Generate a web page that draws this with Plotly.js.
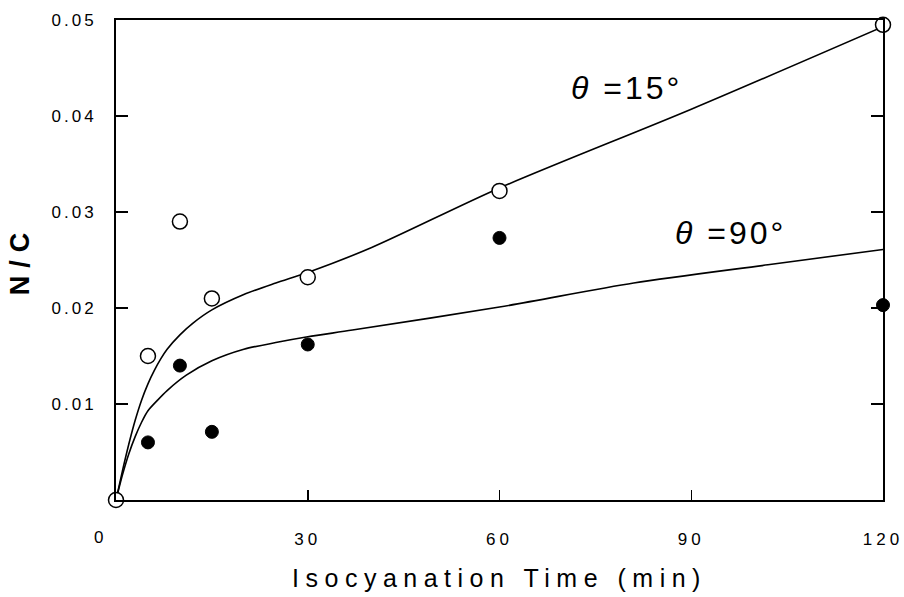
<!DOCTYPE html>
<html>
<head>
<meta charset="utf-8">
<script src="https://cdn.plot.ly/plotly-3.0.1.min.js"></script>
<style>
  html, body { margin: 0; padding: 0; background: #fff; }
  #chart { width: 904px; height: 597px; }
  .xtick text { letter-spacing: 4px; }
  .ytick text { letter-spacing: 3px; }
  .xtitle { letter-spacing: 6.5px; }
  .ytitle { letter-spacing: 8px; }
  .annotation-text { letter-spacing: 3px; }
</style>
</head>
<body>
<div id="chart"></div>
<script>
// Measured points (isocyanation time in min, N/C ratio)
const timeOpen = [0, 5, 10, 15, 30, 60, 120];
const ncOpen15 = [0, 0.0150, 0.0290, 0.0210, 0.0232, 0.0322, 0.0495];

const timeFilled = [5, 10, 15, 30, 60, 120];
const ncFilled90 = [0.0060, 0.0140, 0.0071, 0.0162, 0.0273, 0.0203];

// Fitted curves
const fitTime15 = [0, 1, 2, 3, 4, 5, 6, 7, 8, 10, 12, 15, 20, 25, 30, 40, 60, 90, 120];
const fitNC15   = [0, 0.0030, 0.0058, 0.0083, 0.0104, 0.0121, 0.0135, 0.0147, 0.0157, 0.0172, 0.0184, 0.0198, 0.0214, 0.0226, 0.0237, 0.0263, 0.0325, 0.0407, 0.0493];

const fitTime90 = [0, 1, 2, 3, 4, 5, 6.5, 8, 11, 15, 20, 25, 30, 37, 60, 81, 102, 120];
const fitNC90   = [0, 0.0026, 0.0048, 0.0066, 0.0081, 0.0093, 0.0104, 0.0114, 0.0130, 0.0145, 0.0157, 0.0164, 0.0170, 0.0177, 0.0201, 0.0226, 0.0245, 0.0261];

const xTickVals = [30, 60, 90, 120];
const xTickText = ['30', '60', '90', '120'];
const yTickVals = [0.01, 0.02, 0.03, 0.04, 0.05];
const yTickText = ['0.01', '0.02', '0.03', '0.04', '0.05'];

const labels = [
  {x: 79.8, y: 0.0429, text: '<i>θ</i> =15°'},
  {x: 96.2, y: 0.0278, text: '<i>θ</i> =90°'}
];

const font = 'Liberation Sans, Arial, Helvetica, sans-serif';

const traces = [
  {x: fitTime15, y: fitNC15, mode: 'lines', line: {color: '#000', width: 1.6, shape: 'spline', smoothing: 0.8}, hoverinfo: 'skip', cliponaxis: false},
  {x: fitTime90, y: fitNC90, mode: 'lines', line: {color: '#000', width: 1.6, shape: 'spline', smoothing: 0.8}, hoverinfo: 'skip', cliponaxis: false},
  {x: timeFilled, y: ncFilled90, mode: 'markers', marker: {symbol: 'circle', size: 13, color: '#000', line: {color: '#000', width: 1}}, cliponaxis: false},
  {x: timeOpen, y: ncOpen15, mode: 'markers', marker: {symbol: 'circle', size: 15, color: '#fff', line: {color: '#000', width: 1.5}}, cliponaxis: false}
];

const layout = {
  width: 904, height: 597,
  margin: {l: 116, r: 21, t: 20, b: 97},
  paper_bgcolor: '#fff', plot_bgcolor: '#fff',
  showlegend: false,
  font: {family: font, color: '#000'},
  xaxis: {
    range: [0, 120],
    tickvals: xTickVals, ticktext: xTickText,
    ticks: 'inside', ticklen: 10, tickwidth: 1.5, tickcolor: '#000',
    showline: true, linecolor: '#000', linewidth: 2, mirror: true,
    showgrid: false, zeroline: false,
    tickfont: {size: 17, family: font},
    ticklabelstandoff: 23,
    title: {text: 'Isocyanation Time (min)', font: {size: 25, family: font}, standoff: 21}
  },
  yaxis: {
    range: [0, 0.05],
    tickvals: yTickVals, ticktext: yTickText,
    ticks: 'inside', ticklen: 12, tickwidth: 1.5, tickcolor: '#000',
    showline: true, linecolor: '#000', linewidth: 2, mirror: 'ticks',
    showgrid: false, zeroline: false,
    tickfont: {size: 17, family: font},
    ticklabelstandoff: 14,
    title: {text: '<b>N/C</b>', font: {size: 27, family: font}, standoff: 14}
  },
  annotations: labels.map(l => ({
    x: l.x, y: l.y, xref: 'x', yref: 'y', text: l.text, showarrow: false,
    font: {size: 32, family: font, color: '#000'}
  })).concat([{
    x: 0, y: 0, xref: 'x', yref: 'y', text: '0', showarrow: false,
    xshift: -16, yshift: -37, font: {size: 17, family: font, color: '#000'}
  }])
};

Plotly.newPlot('chart', traces, layout, {displayModeBar: false, staticPlot: true});
</script>
</body>
</html>
